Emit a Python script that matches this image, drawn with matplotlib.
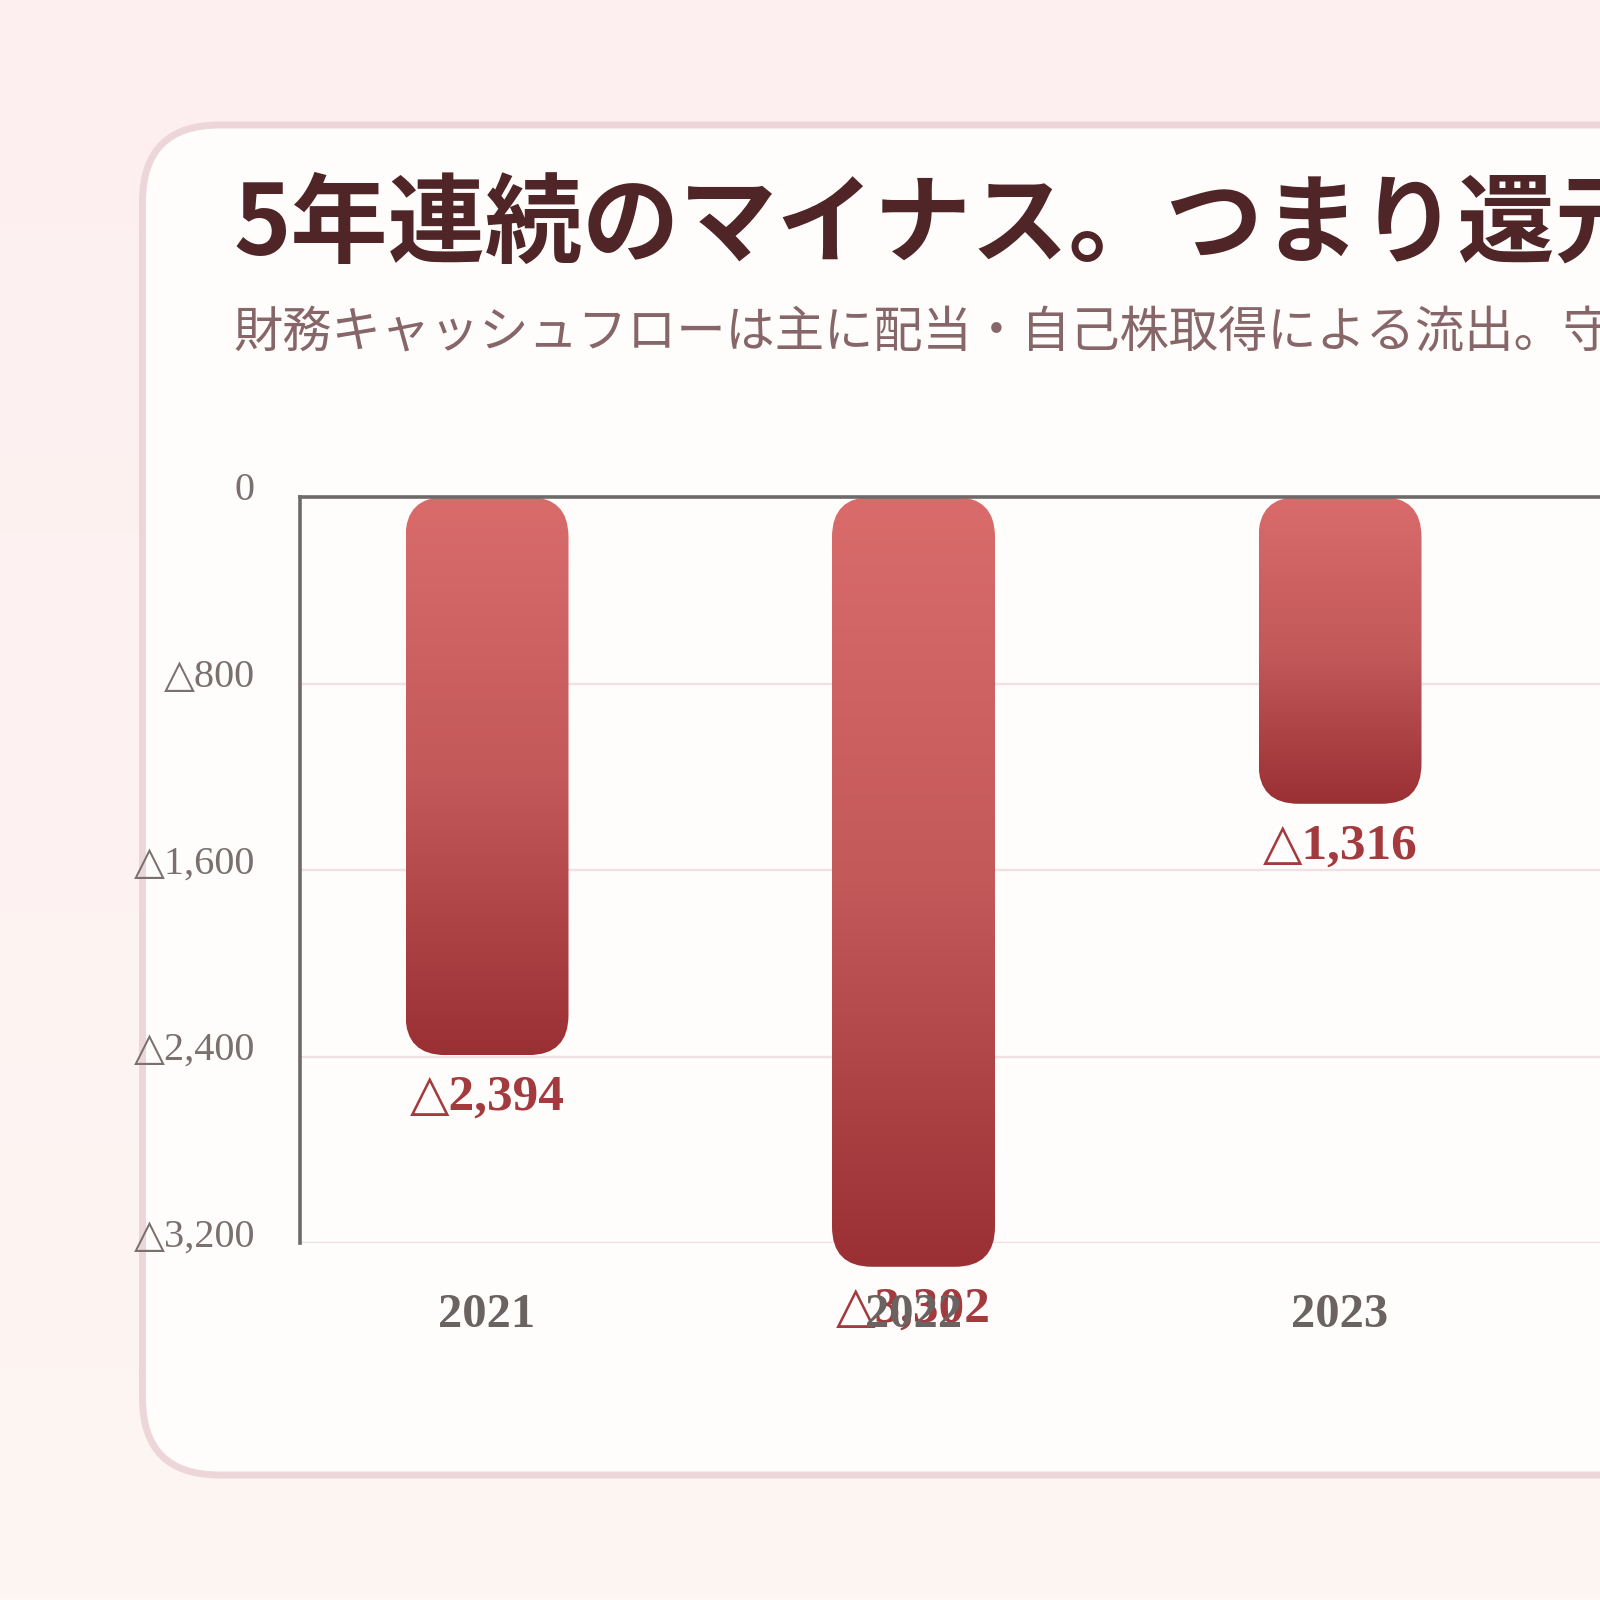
import numpy as np
import matplotlib
matplotlib.use("Agg")
import matplotlib.pyplot as plt
from matplotlib.patches import FancyBboxPatch
from matplotlib.colors import LinearSegmentedColormap
from matplotlib.transforms import blended_transform_factory, offset_copy

# ------------------- DATA -------------------
years = ["2021", "2022", "2023"]
values = [-2394, -3302, -1316]          # 財務CF (単位は元図のまま)
y_ticks = [0, -800, -1600, -2400, -3200]
title = "5年連続のマイナス。つまり還元を続けている"
subtitle = "財務キャッシュフローは主に配当・自己株取得による流出。守りの姿勢ではない"
# --------------------------------------------

W = H = 1600
DPI = 100
plt.rcParams['font.family'] = ['Liberation Serif', 'DejaVu Serif']
JP = ['Noto Sans CJK JP', 'DejaVu Sans']

fig = plt.figure(figsize=(W / DPI, H / DPI), dpi=DPI)

# background gradient + card
bg = fig.add_axes([0, 0, 1, 1], zorder=-10)
bg.set_axis_off()
bg_cmap = LinearSegmentedColormap.from_list("bg", ["#fdeff0", "#fdf6f3"])
bg.imshow(np.linspace(0, 1, 256).reshape(-1, 1), cmap=bg_cmap, aspect="auto",
          extent=[0, 1, 0, 1], origin="upper")
bg.set_xlim(0, 1)
bg.set_ylim(0, 1)
card = FancyBboxPatch((142.5 / W, 1 - 1475 / H), 1700 / W, 1350 / H,
                      boxstyle="round,pad=0,rounding_size=%f" % (77 / W),
                      facecolor="#fffdfb", edgecolor="#ecd6d9", linewidth=5,
                      transform=bg.transAxes)
bg.add_patch(card)

fig.text(233 / W, 1 - 226 / H, title, family=JP, fontsize=70, fontweight="bold",
         color="#4f2527", va="center", ha="left")
fig.text(233 / W, 1 - 333 / H, subtitle, family=JP, fontsize=35.5,
         color="#876669", va="center", ha="left")

# main axes: x=0 at 487px, pitch 426.5px, y 0 at 497px, -3200 at 1243px
pitch = 426.5
x_left = -(487 - 300) / pitch
x_right = 4 - x_left
ax_w = (x_right - x_left) * pitch
ax = fig.add_axes([300 / W, 1 - 1243 / H, ax_w / W, 746 / H])
ax.set_facecolor("none")
ax.set_xlim(x_left, x_right)
ax.set_ylim(-3200, 0)

for s in ["right", "bottom"]:
    ax.spines[s].set_visible(False)
for s in ["left", "top"]:
    ax.spines[s].set_color("#6f6a6a")
    ax.spines[s].set_linewidth(2.6)

# y ticks drawn as texts (slightly above the grid lines, like the original)
ax.set_yticks(y_ticks)
ax.tick_params(axis="y", length=0, labelleft=False)
ax.grid(axis="y", color="#f1e1e4", linewidth=1.7)
ax.set_axisbelow(True)
ytrans = offset_copy(blended_transform_factory(ax.transAxes, ax.transData),
                     fig=fig, x=-45, y=6, units="dots")
for t in y_ticks:
    lbl = "0" if t == 0 else f"△{abs(t):,}"
    ax.text(0, t, lbl, transform=ytrans, ha="right", va="center",
            fontsize=29, color="#7a7070", clip_on=False)

ax.set_xticks(range(len(years)))
ax.set_xticklabels(years, fontweight="bold")
ax.tick_params(axis="x", length=0, pad=36, labelsize=35, labelcolor="#6b6262",
               top=False, labeltop=False)
ax.xaxis.set_zorder(6)

# rounded gradient bars
p0 = ax.transData.transform((0, 0))
p1 = ax.transData.transform((1, 1))
px_x = p1[0] - p0[0]
px_y = p1[1] - p0[1]
bar_w = 163 / px_x
radius_px = 40
rnd = radius_px / px_x
aspect = px_x / px_y

bar_cmap = LinearSegmentedColormap.from_list("bar", ["#9a3034", "#c4595a", "#d96b6b"])
grad = np.linspace(0, 1, 256).reshape(-1, 1)

for i, v in enumerate(values):
    x0 = i - bar_w / 2
    patch = FancyBboxPatch((x0, v), bar_w, -v,
                           boxstyle="round,pad=0,rounding_size=%f" % rnd,
                           mutation_aspect=aspect, facecolor="none",
                           edgecolor="none", clip_on=False, zorder=2)
    ax.add_patch(patch)
    im = ax.imshow(grad, cmap=bar_cmap, aspect="auto", origin="lower",
                   extent=[x0, x0 + bar_w, v, 0], zorder=2)
    im.set_clip_path(patch)
    im.set_clip_box(fig.bbox)
    ax.annotate(f"△{abs(v):,}", (i, v), xytext=(0, -20), textcoords="offset pixels",
                ha="center", va="top", fontsize=37, fontweight="bold",
                color="#a33a3e", annotation_clip=False, zorder=3)

ax.set_xlim(x_left, x_right)
ax.set_ylim(-3200, 0)

fig.savefig("out.png", dpi=DPI)
